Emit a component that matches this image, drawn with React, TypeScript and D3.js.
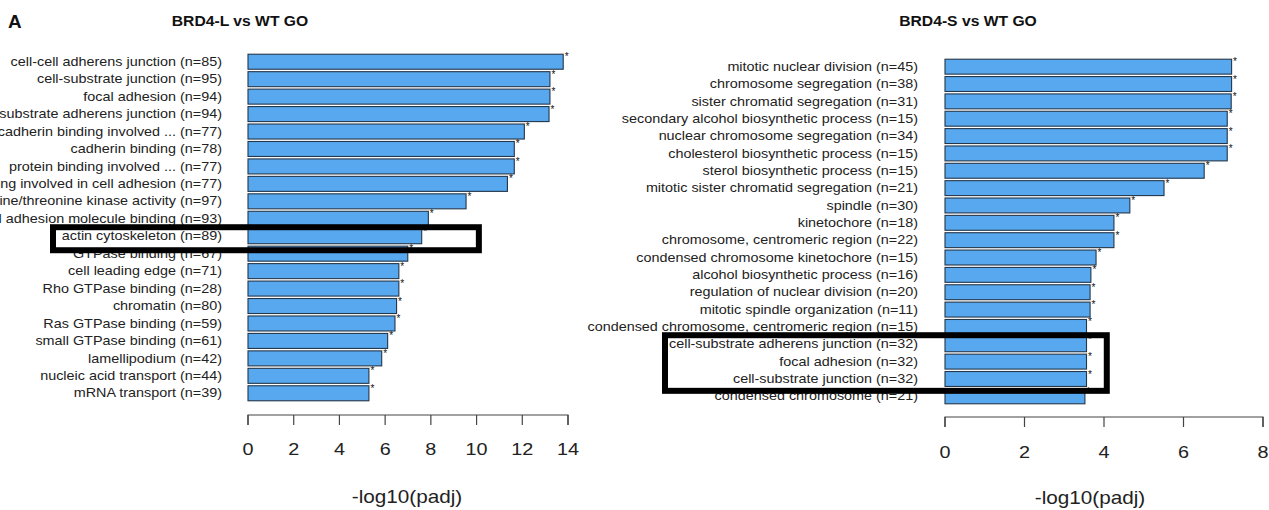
import React from "react";
import * as d3 from "d3";

const leftLabels = [
  "cell-cell adherens junction (n=85)",
  "cell-substrate junction (n=95)",
  "focal adhesion (n=94)",
  "cell-substrate adherens junction (n=94)",
  "cadherin binding involved ... (n=77)",
  "cadherin binding (n=78)",
  "protein binding involved ... (n=77)",
  "cadherin binding involved in cell adhesion (n=77)",
  "protein serine/threonine kinase activity (n=97)",
  "cell adhesion molecule binding (n=93)",
  "actin cytoskeleton (n=89)",
  "GTPase binding (n=67)",
  "cell leading edge (n=71)",
  "Rho GTPase binding (n=28)",
  "chromatin (n=80)",
  "Ras GTPase binding (n=59)",
  "small GTPase binding (n=61)",
  "lamellipodium (n=42)",
  "nucleic acid transport (n=44)",
  "mRNA transport (n=39)",
];
const leftValues = [13.79, 13.21, 13.21, 13.17, 12.09, 11.65, 11.65, 11.35, 9.54, 7.89, 7.6, 6.99, 6.6, 6.6, 6.5, 6.43, 6.11, 5.85, 5.29, 5.29];

const rightLabels = [
  "mitotic nuclear division (n=45)",
  "chromosome segregation (n=38)",
  "sister chromatid segregation (n=31)",
  "secondary alcohol biosynthetic process (n=15)",
  "nuclear chromosome segregation (n=34)",
  "cholesterol biosynthetic process (n=15)",
  "sterol biosynthetic process (n=15)",
  "mitotic sister chromatid segregation (n=21)",
  "spindle (n=30)",
  "kinetochore (n=18)",
  "chromosome, centromeric region (n=22)",
  "condensed chromosome kinetochore (n=15)",
  "alcohol biosynthetic process (n=16)",
  "regulation of nuclear division (n=20)",
  "mitotic spindle organization (n=11)",
  "condensed chromosome, centromeric region (n=15)",
  "cell-substrate adherens junction (n=32)",
  "focal adhesion (n=32)",
  "cell-substrate junction (n=32)",
  "condensed chromosome (n=21)",
];
const rightValues = [7.21, 7.21, 7.2, 7.1, 7.1, 7.1, 6.52, 5.51, 4.65, 4.25, 4.25, 3.8, 3.67, 3.65, 3.65, 3.56, 3.56, 3.56, 3.56, 3.52];

const leftTicks = [0, 2, 4, 6, 8, 10, 12, 14];
const rightTicks = [0, 2, 4, 6, 8];

const FONT = "'Liberation Sans', Arial, Helvetica, sans-serif";
const BAR_FILL = "#57a8ee";
const BAR_STROKE = "#24364a";

type STextProps = {
  x: number;
  y: number;
  sx: number;
  size: number;
  anchor?: "start" | "middle" | "end";
  bold?: boolean;
  fill?: string;
  children: React.ReactNode;
};

function SText({ x, y, sx, size, anchor = "start", bold = false, fill = "#222", children }: STextProps) {
  return (
    <g transform={`translate(${x},${y}) scale(${sx},1)`}>
      <text x={0} y={0} textAnchor={anchor} dominantBaseline="central" fontSize={size} fontWeight={bold ? "bold" : "normal"} fontFamily={FONT} fill={fill}>
        {children}
      </text>
    </g>
  );
}

type PanelProps = {
  labels: string[];
  values: number[];
  ticks: number[];
  domainMax: number;
  xRange: [number, number];
  yRange: [number, number];
  labelRight: number;
  axisY: number;
  tickLabelY: number;
  titleX: number;
  titleY: number;
};

function Panel(p: PanelProps) {
  const x = d3.scaleLinear().domain([0, p.domainMax]).range(p.xRange);
  const y = d3.scaleBand<string>().domain(p.labels).range(p.yRange).paddingInner(0.14).paddingOuter(0.07);
  const bw = y.bandwidth();
  return (
    <g>
      {p.labels.map((l, i) => {
        const yy = y(l)!;
        return (
          <g key={l}>
            <rect x={x(0)} y={yy} width={x(p.values[i]) - x(0)} height={bw} fill={BAR_FILL} stroke={BAR_STROKE} strokeWidth={1.1} />
            <text x={x(p.values[i]) + 1.5} y={yy + 6} fontSize={10} fontFamily={FONT} fill="#111">*</text>
            <SText x={p.labelRight} y={yy + bw / 2} sx={1.17} size={12.3} anchor="end">{l}</SText>
          </g>
        );
      })}
      <path d={`M${x(p.ticks[0])},${p.axisY + 10}V${p.axisY}H${x(p.ticks[p.ticks.length - 1])}V${p.axisY + 10}`} fill="none" stroke="#444" strokeWidth={1.2} />
      {p.ticks.map((t) => (
        <g key={t}>
          <line x1={x(t)} x2={x(t)} y1={p.axisY} y2={p.axisY + 10} stroke="#444" strokeWidth={1.2} />
          <SText x={x(t)} y={p.tickLabelY} sx={1.2} size={16.5} anchor="middle">{t}</SText>
        </g>
      ))}
      <SText x={p.titleX} y={p.titleY} sx={1.15} size={18} anchor="middle">-log10(padj)</SText>
    </g>
  );
}

export default function App() {
  const xL = d3.scaleLinear().domain([0, 14]).range([248, 568]);
  const yL = d3.scaleBand<string>().domain(leftLabels).range([53, 402]).paddingInner(0.14).paddingOuter(0.07);
  const xR = d3.scaleLinear().domain([0, 8]).range([945, 1263]);
  const yR = d3.scaleBand<string>().domain(rightLabels).range([58, 405]).paddingInner(0.14).paddingOuter(0.07);

  const actinTop = yL("actin cytoskeleton (n=89)")!;
  const boxRTop = yR("cell-substrate adherens junction (n=32)")!;
  const boxRBot = yR("cell-substrate junction (n=32)")! + yR.bandwidth();

  return (
    <svg width={1269} height={510} style={{ position: "absolute", left: 0, top: 0, background: "#fff" }}>
      <rect width={1269} height={510} fill="#fff" />
      <SText x={8} y={22} sx={1.05} size={18} bold fill="#111">A</SText>
      <SText x={240} y={21} sx={1.12} size={14} anchor="middle" bold fill="#111">BRD4-L vs WT GO</SText>
      <SText x={968} y={21} sx={1.12} size={14} anchor="middle" bold fill="#111">BRD4-S vs WT GO</SText>
      <Panel labels={leftLabels} values={leftValues} ticks={leftTicks} domainMax={14} xRange={[248, 568]} yRange={[53, 402]} labelRight={222} axisY={415} tickLabelY={450} titleX={407} titleY={497} />
      <Panel labels={rightLabels} values={rightValues} ticks={rightTicks} domainMax={8} xRange={[945, 1263]} yRange={[58, 405]} labelRight={918} axisY={417} tickLabelY={453} titleX={1090} titleY={498} />
      <rect x={53} y={actinTop - 1.5} width={xL(10.1) - 53} height={yL.bandwidth() + 8} fill="none" stroke="#000" strokeWidth={6} />
      <rect x={665} y={boxRTop - 1.6} width={xR(4.07) - 665} height={boxRBot - boxRTop + 6} fill="none" stroke="#000" strokeWidth={6} />
    </svg>
  );
}
